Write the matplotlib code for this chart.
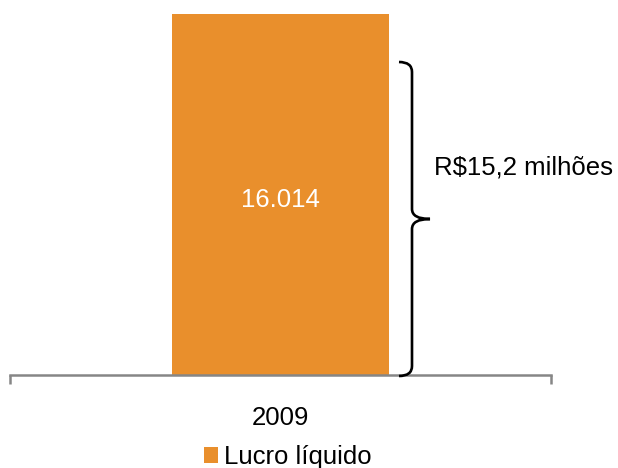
import matplotlib
matplotlib.use('Agg')
import matplotlib.pyplot as plt
from matplotlib.path import Path
from matplotlib.patches import PathPatch

plt.rcParams['font.family'] = ['Liberation Sans', 'DejaVu Sans']

# data
categories = ['2009']
values = [16014]
value_labels = ['16.014']
series_name = 'Lucro líquido'
brace_text = 'R$15,2 milhões'

bar_color = '#E98F2C'
axis_color = '#868686'

fig = plt.figure(figsize=(6.18, 4.68), dpi=100)
ax = fig.add_axes([10 / 618, 93 / 468, 541 / 618, 361 / 468])

bars = ax.bar([0], values, width=0.4, color=bar_color, label=series_name)
ax.set_xlim(-0.5, 0.5)
ax.set_ylim(0, values[0])

for b, lab in zip(bars, value_labels):
    ax.text(b.get_x() + b.get_width() / 2, values[0] * 0.465, lab,
            ha='center', va='baseline', color='white', fontsize=18.5)

# axis styling
for s in ['top', 'right', 'left']:
    ax.spines[s].set_visible(False)
ax.spines['bottom'].set_color(axis_color)
ax.spines['bottom'].set_linewidth(1.8)
ax.set_yticks([])
ax.set_xticks([0])
ax.set_xticklabels(categories, fontsize=18.5)
ax.tick_params(axis='x', length=0, pad=22.5)
ax.set_xticks([-0.5, 0.5], minor=True)
ax.tick_params(axis='x', which='minor', length=6.5, width=1.8, color=axis_color, direction='out')


# curly brace, drawn in figure pixel coords
def fp(px, py):
    return (px / 618, 1 - py / 468)


verts = [fp(399, 62), fp(412, 62), fp(412, 72),
         fp(412, 209),
         fp(412, 219), fp(430, 219),
         fp(412, 219), fp(412, 229),
         fp(412, 366),
         fp(412, 376), fp(399, 376)]
codes = [Path.MOVETO, Path.CURVE3, Path.CURVE3,
         Path.LINETO,
         Path.CURVE3, Path.CURVE3,
         Path.CURVE3, Path.CURVE3,
         Path.LINETO,
         Path.CURVE3, Path.CURVE3]
brace = PathPatch(Path(verts, codes), transform=fig.transFigure,
                  facecolor='none', edgecolor='black', lw=1.9, clip_on=False)
fig.patches.append(brace)

fig.text(434 / 618, 1 - 175 / 468, brace_text, ha='left', va='baseline', fontsize=18.5)

# legend
leg = fig.legend(loc='center', bbox_to_anchor=(288 / 618, 1 - 457 / 468), frameon=False,
                 fontsize=18.5, handlelength=0.55, handleheight=0.55, handletextpad=0.25,
                 borderpad=0, borderaxespad=0)

fig.savefig('out.png', dpi=100)
